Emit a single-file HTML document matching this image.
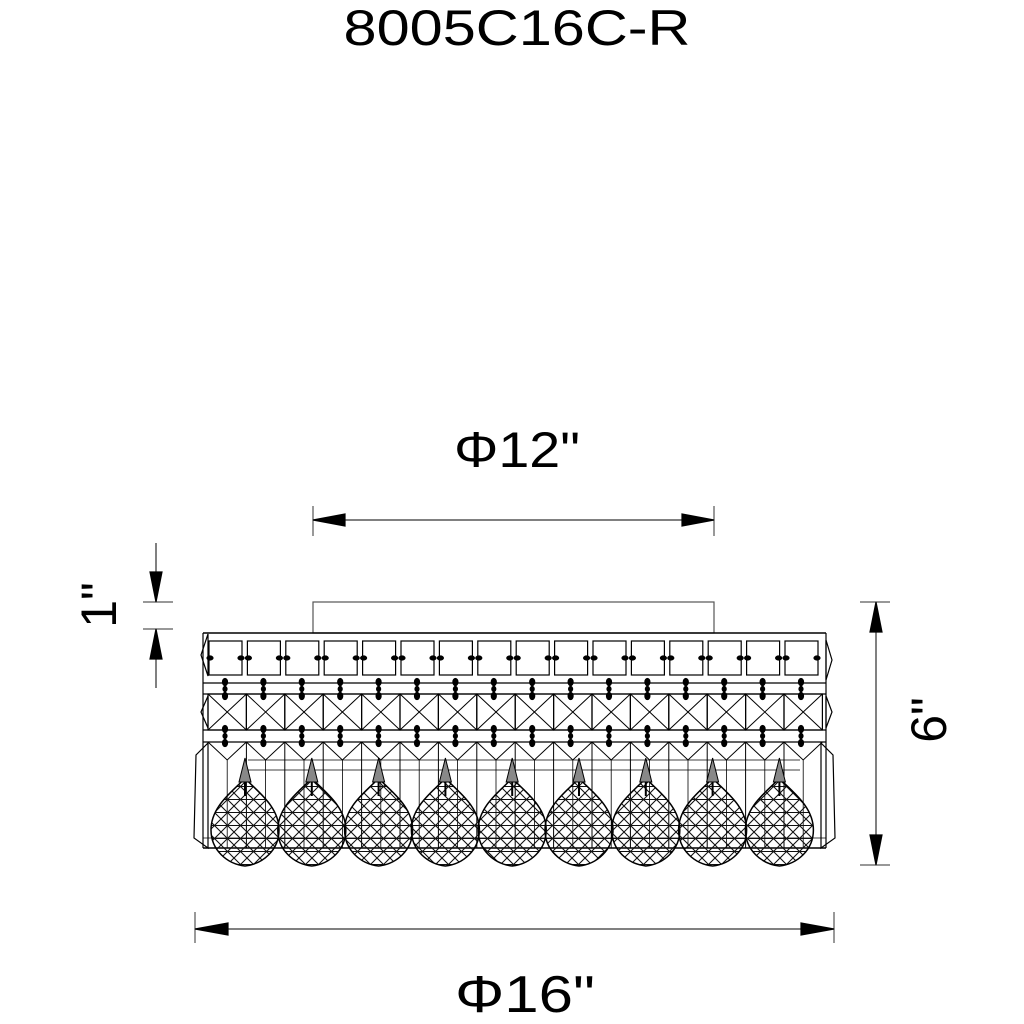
<!DOCTYPE html>
<html><head><meta charset="utf-8"><style>
html,body{margin:0;padding:0;background:#fff;width:1024px;height:1024px;overflow:hidden}
svg{display:block}
text{font-family:"Liberation Sans",sans-serif;fill:#000}
</style></head><body>
<svg id="s" width="1024" height="1024" viewBox="0 0 1024 1024" xmlns="http://www.w3.org/2000/svg">
<defs>
<pattern id="mesh" width="13" height="13" patternUnits="userSpaceOnUse">
<path d="M0 0L13 13M13 0L0 13M0 6.5H13" stroke="#111" stroke-width="1.1" fill="none"/>
</pattern>
</defs>
<text x="517" y="45" font-size="50" text-anchor="middle" textLength="347" lengthAdjust="spacingAndGlyphs">8005C16C-R</text>
<text x="517" y="467" font-size="50" text-anchor="middle" textLength="126" lengthAdjust="spacingAndGlyphs">Φ12"</text>
<text x="525" y="1012" font-size="52" text-anchor="middle" textLength="140" lengthAdjust="spacingAndGlyphs">Φ16"</text>
<text transform="translate(116,605) rotate(-90)" font-size="50" text-anchor="middle">1"</text>
<text transform="translate(946,720) rotate(-90)" font-size="50" text-anchor="middle">6"</text>
<g id="g" stroke="#000" fill="none" stroke-width="1.2"></g>
</svg>
<script>
var g=document.getElementById('g'),h='';
function L(a,b,c,d,w,col){h+='<line x1="'+a+'" y1="'+b+'" x2="'+c+'" y2="'+d+'"'+(w?' stroke-width="'+w+'"':'')+(col?' stroke="'+col+'"':'')+'/>';}
function P(d,f,w){h+='<path d="'+d+'"'+(f?' fill="'+f+'"':'')+(w?' stroke-width="'+w+'"':'')+'/>';}
L(313,506,313,536,1.5,'#777');L(714,506,714,536,1.5,'#777');L(313,520,714,520,1);
P('M313 520L345 514L345 526Z','#000');P('M714 520L682 514L682 526Z','#000');
L(195,912,195,943,1.5,'#777');L(834,912,834,943,1.5,'#777');L(195,929,834,929,1);
P('M195 929L228 923L228 935Z','#000');P('M834 929L801 923L801 935Z','#000');
L(860,602,890,602,1.5,'#777');L(860,865,890,865,1.5,'#777');L(876,602,876,865,1);
P('M876 602L870 632L882 632Z','#000');P('M876 865L870 835L882 835Z','#000');
L(143,602,173,602,1.5,'#777');L(143,629,173,629,1.5,'#777');
L(156,543,156,602,1);L(156,629,156,688,1);
P('M156 602L150 572L162 572Z','#000');P('M156 629L150 659L162 659Z','#000');
h+='<rect x="313" y="602" width="401" height="31" stroke="#555"/>';
L(203,633,826,633,1.4);L(203,633,203,848);L(826,633,826,848);
L(203,683,826,683);L(203,694,826,694);L(203,730,826,730);L(203,742,826,742);L(203,848,826,848,1.4);
var p=38.4,x0=208;
for(var i=0;i<16;i++){var x=x0+i*p;
 h+='<rect x="'+(x+1)+'" y="641" width="33" height="34"/>';
 h+='<ellipse cx="'+(x+2)+'" cy="658" rx="3" ry="2" fill="#000"/><ellipse cx="'+(x+33)+'" cy="658" rx="3" ry="2" fill="#000"/>';
 h+='<rect x="'+x+'" y="694" width="'+p+'" height="36"/>';
 L(x,694,x+p,730,1);L(x+p,694,x,730,1);
 var c=x+17;
 [679,726].forEach(function(y){L(c,y,c,y+20,2);h+='<ellipse cx="'+c+'" cy="'+(y+3)+'" rx="2.5" ry="3.5" fill="#000"/><ellipse cx="'+c+'" cy="'+(y+10)+'" rx="2" ry="2.5" fill="#000"/><ellipse cx="'+c+'" cy="'+(y+17)+'" rx="2.5" ry="3.5" fill="#000"/>';});
 L(x,742,x,848,1);L(x+p/2,760,x+p/2,848,0.8);
 P('M'+x+' 742L'+(x+p/2)+' 760L'+(x+p)+' 742',null,1);
}
L(248,760,800,760,0.8);L(248,770,800,770,0.8);L(203,838,826,838,0.8);
P('M208 743L196 755L194 838L208 848Z');P('M208 634L201 655L208 676Z');P('M208 696L201 712L208 728Z');
P('M821 743L833 755L835 838L821 848Z');P('M826 640L832 660L826 680Z');P('M826 696L832 712L826 728Z');
for(var k=0;k<9;k++){var cx=245+k*66.8;
 var d='M'+cx+' 778C'+(cx+10)+' 790 '+(cx+34)+' 805 '+(cx+34)+' 830C'+(cx+34)+' 850 '+(cx+18)+' 864 '+cx+' 866C'+(cx-18)+' 864 '+(cx-34)+' 850 '+(cx-34)+' 830C'+(cx-34)+' 805 '+(cx-10)+' 790 '+cx+' 778Z';
 h+='<path d="'+d+'" fill="url(#mesh)" stroke-width="1.5"/>';
 P('M'+cx+' 758L'+(cx-6)+' 782L'+(cx+6)+' 782Z','#888',1);
 L(cx,782,cx,796,2);
}
g.innerHTML=h;
</script>
</body></html>
